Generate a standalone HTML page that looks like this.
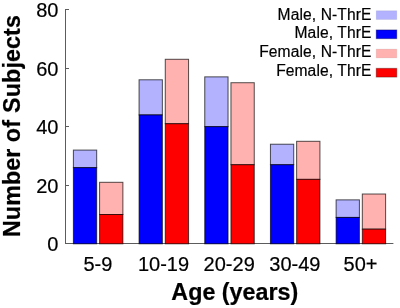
<!DOCTYPE html>
<html><head><meta charset="utf-8"><style>
html,body{margin:0;padding:0;background:#fff;width:400px;height:308px;overflow:hidden}
svg{display:block;will-change:transform}
text{font-family:"Liberation Sans",sans-serif;fill:#000;stroke:#000;stroke-width:0.2px}
</style></head><body>
<svg width="400" height="308" viewBox="0 0 400 308">
<rect width="400" height="308" fill="#fff"/>
<path d="M65.5 9.5 V243.5 H393.4" fill="none" stroke="#5c5c5c" stroke-width="1"/>
<path d="M65 243.50 H69" stroke="#5c5c5c" stroke-width="1"/>
<text x="58.4" y="251.40" font-size="20" text-anchor="end">0</text>
<path d="M65 185.50 H69" stroke="#5c5c5c" stroke-width="1"/>
<text x="58.4" y="192.83" font-size="20" text-anchor="end">20</text>
<path d="M65 126.50 H69" stroke="#5c5c5c" stroke-width="1"/>
<text x="58.4" y="134.25" font-size="20" text-anchor="end">40</text>
<path d="M65 68.50 H69" stroke="#5c5c5c" stroke-width="1"/>
<text x="58.4" y="75.68" font-size="20" text-anchor="end">60</text>
<path d="M65 9.50 H69" stroke="#5c5c5c" stroke-width="1"/>
<text x="58.4" y="17.10" font-size="20" text-anchor="end">80</text>
<rect x="73.39" y="150.08" width="23.30" height="17.57" fill="#b2b2ff" stroke="rgba(0,0,0,0.68)" stroke-width="1"/>
<rect x="73.39" y="167.65" width="23.30" height="76.15" fill="#0000ff" stroke="rgba(0,0,0,0.68)" stroke-width="1"/>
<rect x="99.59" y="182.30" width="23.30" height="32.22" fill="#ffb2b0" stroke="rgba(0,0,0,0.68)" stroke-width="1"/>
<rect x="99.59" y="214.51" width="23.30" height="29.29" fill="#ff0000" stroke="rgba(0,0,0,0.68)" stroke-width="1"/>
<text x="97.84" y="271" font-size="20" text-anchor="middle">5-9</text>
<rect x="139.07" y="79.79" width="23.30" height="35.14" fill="#b2b2ff" stroke="rgba(0,0,0,0.68)" stroke-width="1"/>
<rect x="139.07" y="114.94" width="23.30" height="128.86" fill="#0000ff" stroke="rgba(0,0,0,0.68)" stroke-width="1"/>
<rect x="165.27" y="59.29" width="23.30" height="64.43" fill="#ffb2b0" stroke="rgba(0,0,0,0.68)" stroke-width="1"/>
<rect x="165.27" y="123.72" width="23.30" height="120.08" fill="#ff0000" stroke="rgba(0,0,0,0.68)" stroke-width="1"/>
<text x="163.52" y="271" font-size="20" text-anchor="middle">10-19</text>
<rect x="204.75" y="76.86" width="23.30" height="49.79" fill="#b2b2ff" stroke="rgba(0,0,0,0.68)" stroke-width="1"/>
<rect x="204.75" y="126.65" width="23.30" height="117.15" fill="#0000ff" stroke="rgba(0,0,0,0.68)" stroke-width="1"/>
<rect x="230.95" y="82.72" width="23.30" height="82.00" fill="#ffb2b0" stroke="rgba(0,0,0,0.68)" stroke-width="1"/>
<rect x="230.95" y="164.73" width="23.30" height="79.07" fill="#ff0000" stroke="rgba(0,0,0,0.68)" stroke-width="1"/>
<text x="229.20" y="271" font-size="20" text-anchor="middle">20-29</text>
<rect x="270.43" y="144.22" width="23.30" height="20.50" fill="#b2b2ff" stroke="rgba(0,0,0,0.68)" stroke-width="1"/>
<rect x="270.43" y="164.73" width="23.30" height="79.07" fill="#0000ff" stroke="rgba(0,0,0,0.68)" stroke-width="1"/>
<rect x="296.63" y="141.30" width="23.30" height="38.07" fill="#ffb2b0" stroke="rgba(0,0,0,0.68)" stroke-width="1"/>
<rect x="296.63" y="179.37" width="23.30" height="64.43" fill="#ff0000" stroke="rgba(0,0,0,0.68)" stroke-width="1"/>
<text x="294.88" y="271" font-size="20" text-anchor="middle">30-49</text>
<rect x="336.11" y="199.87" width="23.30" height="17.57" fill="#b2b2ff" stroke="rgba(0,0,0,0.68)" stroke-width="1"/>
<rect x="336.11" y="217.44" width="23.30" height="26.36" fill="#0000ff" stroke="rgba(0,0,0,0.68)" stroke-width="1"/>
<rect x="362.31" y="194.01" width="23.30" height="35.14" fill="#ffb2b0" stroke="rgba(0,0,0,0.68)" stroke-width="1"/>
<rect x="362.31" y="229.16" width="23.30" height="14.64" fill="#ff0000" stroke="rgba(0,0,0,0.68)" stroke-width="1"/>
<text x="360.56" y="271" font-size="20" text-anchor="middle">50+</text>
<text x="371.5" y="19.50" font-size="15.6" letter-spacing="0.1" text-anchor="end">Male, N-ThrE</text>
<rect x="376.2" y="10.70" width="20.6" height="8.8" fill="#b2b2ff" stroke="rgba(0,0,0,0.06)" stroke-width="1"/>
<text x="371.5" y="38.30" font-size="15.6" letter-spacing="0.1" text-anchor="end">Male, ThrE</text>
<rect x="376.2" y="29.90" width="20.6" height="8.8" fill="#0000ff" stroke="rgba(0,0,0,0.3)" stroke-width="1"/>
<text x="371.5" y="57.10" font-size="15.6" letter-spacing="0.1" text-anchor="end">Female, N-ThrE</text>
<rect x="376.2" y="49.10" width="20.6" height="8.8" fill="#ffb2b0" stroke="rgba(0,0,0,0.06)" stroke-width="1"/>
<text x="371.5" y="75.90" font-size="15.6" letter-spacing="0.1" text-anchor="end">Female, ThrE</text>
<rect x="376.2" y="68.30" width="20.6" height="8.8" fill="#ff0000" stroke="rgba(0,0,0,0.3)" stroke-width="1"/>
<text x="0" y="0" font-size="23.3" font-weight="bold" text-anchor="start" letter-spacing="0.05" transform="translate(19.5 237.0) rotate(-90)">Number of</text>
<text x="0" y="0" font-size="23.3" font-weight="bold" text-anchor="end" letter-spacing="0.1" transform="translate(19.5 15.0) rotate(-90)">Subjects</text>
<text x="234.8" y="299.5" font-size="23.3" font-weight="bold" text-anchor="middle">Age (years)</text>
</svg>
</body></html>
